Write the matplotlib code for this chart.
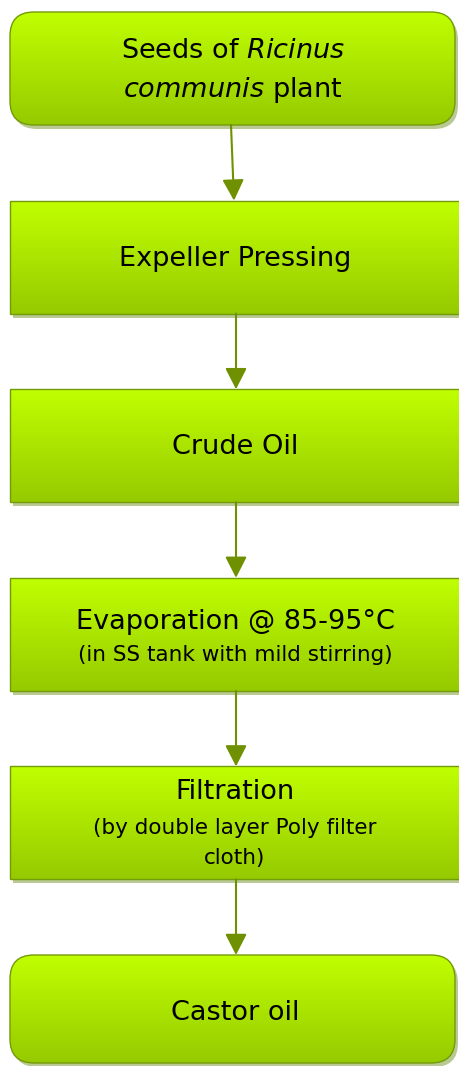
import numpy as np
import matplotlib.pyplot as plt
from matplotlib.patches import FancyBboxPatch, FancyArrowPatch

plt.rcParams['mathtext.fontset'] = 'custom'
plt.rcParams['mathtext.rm'] = 'DejaVu Sans'
plt.rcParams['mathtext.it'] = 'DejaVu Sans:italic'

# flowchart steps (top to bottom)
titles = [r"Seeds of $\mathit{Ricinus}$", "Expeller Pressing", "Crude Oil",
          "Evaporation @ 85-95°C", "Filtration", "Castor oil"]
subtitles = [r"$\mathit{communis}$ plant", "", "",
             "(in SS tank with mild stirring)",
             "(by double layer Poly filter\ncloth)", ""]
rounded = [True, False, False, False, False, True]

W, H = 459, 1066
fig = plt.figure(figsize=(W / 100, H / 100), dpi=100)
ax = fig.add_axes([0, 0, 1, 1])
ax.set_xlim(0, W)
ax.set_ylim(H, 0)
ax.axis('off')

x0 = 10
box_h = 113
step = 188.6
top0 = 12

grad = np.linspace(0, 1, 256)[:, None]
top_c = np.array([192, 255, 0]) / 255
bot_c = np.array([150, 202, 0]) / 255
img = top_c * (1 - grad[..., None]) + bot_c * grad[..., None]
img = np.repeat(img, 2, axis=1)

for i, (t, s, r) in enumerate(zip(titles, subtitles, rounded)):
    y0 = top0 + i * step
    if r:
        style = "round,pad=0,rounding_size=24"
        x1 = 455
        h = box_h if i == 0 else 1063 - y0
    else:
        style = "square,pad=0"
        x1 = 475
        h = box_h
    shadow = FancyBboxPatch((x0 + 3, y0 + 4), x1 - x0, h, boxstyle=style,
                            fc='#b9c994', ec='none', zorder=1)
    ax.add_patch(shadow)
    box = FancyBboxPatch((x0, y0), x1 - x0, h, boxstyle=style,
                         fc='none', ec='#739a08', lw=1.0, zorder=3)
    ax.add_patch(box)
    im = ax.imshow(img, extent=[x0, x1, y0 + h, y0], aspect='auto', zorder=2)
    im.set_clip_path(box)

    cx = 235
    if i == 0:
        ax.text(233, y0 + 46, t, ha='center', va='baseline', fontsize=19.5, zorder=4)
        ax.text(233, y0 + 85, s, ha='center', va='baseline', fontsize=19.5, zorder=4)
    elif i == 3:
        ax.text(cx, y0 + 51, t, ha='center', va='baseline', fontsize=19.5, zorder=4)
        ax.text(cx, y0 + 83, s, ha='center', va='baseline', fontsize=15.5, zorder=4)
    elif i == 4:
        ax.text(cx, y0 + 33, t, ha='center', va='baseline', fontsize=19.5, zorder=4)
        ax.text(cx, y0 + 68, s.split('\n')[0], ha='center', va='baseline',
                fontsize=15.5, zorder=4)
        ax.text(cx, y0 + 98, s.split('\n')[1], ha='center', va='baseline',
                fontsize=15.5, zorder=4)
    else:
        ax.text(cx, y0 + 65, t, ha='center', va='baseline', fontsize=19.5, zorder=4)

    if i < len(titles) - 1:
        xs = 231 if i == 0 else 236
        xe = 234 if i == 0 else 236
        arr = FancyArrowPatch((xs, y0 + box_h), (xe, y0 + step),
                              arrowstyle='-|>,head_length=4.3,head_width=2.2',
                              color='#6f9000', lw=1.5, shrinkA=0, shrinkB=0,
                              mutation_scale=3, zorder=5)
        ax.add_patch(arr)

plt.savefig('out.png', dpi=100)
